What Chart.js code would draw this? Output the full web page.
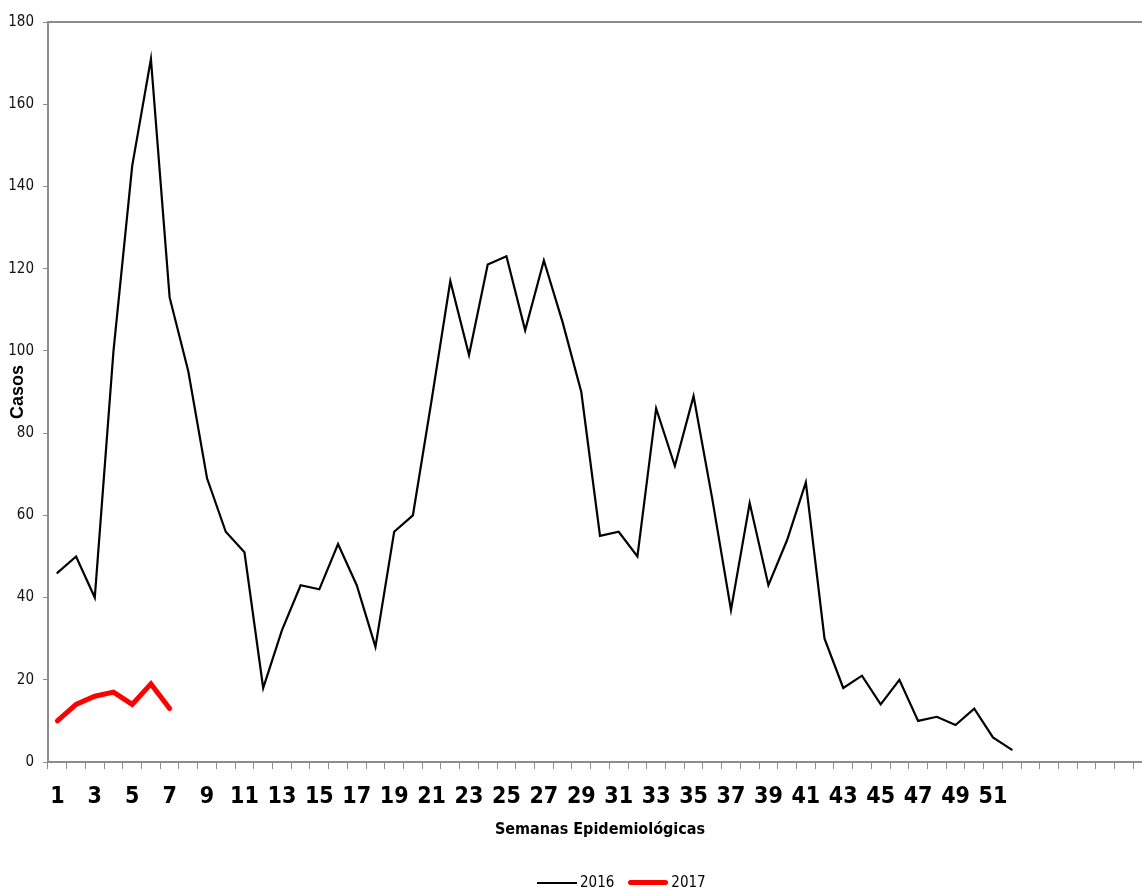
<!DOCTYPE html>
<html>
<head>
<meta charset="utf-8">
<script src="https://cdn.jsdelivr.net/npm/chart.js@4"></script>
<style>
    html, body { margin: 0; padding: 0; background: #fff; overflow: hidden; }
    #casosChart { position: absolute; left: 0; top: 0; }
    #legend {
        position: absolute; left: 537px; top: 873px;
        font-family: 'Liberation Sans Narrow', 'DejaVu Sans Condensed', sans-serif;
        font-size: 15px; color: #000; white-space: nowrap;
    }
    #legend .item { display: inline-block; margin-right: 14px; }
    #legend .swatch { display: inline-block; width: 40px; vertical-align: middle; margin-right: 3px; }
</style>
</head>
<body>
<canvas id="casosChart" width="1152" height="888"></canvas>
<div id="legend"></div>
<script>
// Semanas epidemiológicas (categorías del eje X; las últimas van vacías)
const weeks = ['1', '2', '3', '4', '5', '6', '7', '8', '9', '10',
    '11', '12', '13', '14', '15', '16', '17', '18', '19', '20',
    '21', '22', '23', '24', '25', '26', '27', '28', '29', '30',
    '31', '32', '33', '34', '35', '36', '37', '38', '39', '40',
    '41', '42', '43', '44', '45', '46', '47', '48', '49', '50',
    '51', '52', '', '', '', '', '', '', ''];

const casos2016 = [46, 50, 40, 100, 145, 171, 113, 95, 69, 56,
    51, 18, 32, 43, 42, 53, 43, 28, 56, 60,
    88, 117, 99, 121, 123, 105, 122, 107, 90, 55,
    56, 50, 86, 72, 89, 64, 37, 63, 43, 54,
    68, 30, 18, 21, 14, 20, 10, 11, 9, 13,
    6, 3];

const casos2017 = [10, 14, 16, 17, 14, 19, 13];

const yTicks = [0, 20, 40, 60, 80, 100, 120, 140, 160, 180];

const narrow = "'Liberation Sans Narrow', 'DejaVu Sans Condensed', sans-serif";
const axisGray = '#8c8c8c';

// top border of the plot area
const plotBorder = {
    id: 'plotBorder',
    afterDraw(chart) {
        const { ctx, chartArea } = chart;
        ctx.save();
        ctx.strokeStyle = axisGray;
        ctx.lineWidth = 2;
        ctx.beginPath();
        ctx.moveTo(chartArea.left - 1, chartArea.top);
        ctx.lineTo(chartArea.right, chartArea.top);
        ctx.stroke();
        ctx.restore();
    }
};

const series = [
    { label: '2016', data: casos2016, color: '#000000', width: 2.2 },
    { label: '2017', data: casos2017, color: '#ff0000', width: 5 }
];

const chart = new Chart(document.getElementById('casosChart'), {
    type: 'line',
    data: {
        labels: weeks,
        datasets: series.map(s => ({
            label: s.label,
            data: s.data,
            borderColor: s.color,
            backgroundColor: s.color,
            borderWidth: s.width,
            borderCapStyle: 'round',
            borderJoinStyle: 'miter',
            pointRadius: 0,
            tension: 0,
            fill: false
        }))
    },
    options: {
        responsive: false,
        animation: false,
        layout: { padding: { top: 22, left: 0, right: 0, bottom: 0 } },
        plugins: {
            legend: { display: false },
            tooltip: { enabled: false }
        },
        scales: {
            x: {
                type: 'category',
                offset: true,
                afterFit: (scale) => {
                    scale.height = 126;
                    scale.paddingLeft = 0;
                    scale.paddingRight = 0;
                },
                grid: {
                    offset: true,
                    drawOnChartArea: false,
                    tickLength: 7,
                    color: axisGray,
                    lineWidth: 1
                },
                border: { color: axisGray, width: 2 },
                ticks: {
                    autoSkip: false,
                    maxRotation: 0,
                    padding: 14,
                    color: '#000',
                    font: { family: narrow, size: 23, weight: 'bold' },
                    callback: function (val, i) {
                        return i % 2 === 0 ? this.getLabelForValue(val) : '';
                    }
                },
                title: {
                    display: true,
                    text: 'Semanas Epidemiológicas',
                    color: '#000',
                    font: { family: narrow, size: 16, weight: 'bold' },
                    padding: { top: 0, bottom: 49 }
                }
            },
            y: {
                min: 0,
                max: 180,
                afterFit: (scale) => { scale.width = 48; },
                afterBuildTicks: (scale) => { scale.ticks = yTicks.map(v => ({ value: v })); },
                grid: {
                    drawOnChartArea: false,
                    tickLength: 5,
                    color: axisGray,
                    lineWidth: 1
                },
                border: { color: axisGray, width: 2 },
                ticks: {
                    padding: 9,
                    color: '#111',
                    font: { family: narrow, size: 15 }
                },
                title: {
                    display: true,
                    text: 'Casos',
                    color: '#000',
                    font: { family: "'Liberation Sans', Arial, sans-serif", size: 18, weight: 'bold' },
                    padding: { top: 7, bottom: 0 }
                }
            }
        }
    },
    plugins: [plotBorder]
});

// legend drawn as HTML so it can sit where the original one is
const legendEl = document.getElementById('legend');
series.forEach(s => {
    const item = document.createElement('span');
    item.className = 'item';
    const sw = document.createElement('span');
    sw.className = 'swatch';
    sw.style.height = Math.round(s.width) + 'px';
    sw.style.background = s.color;
    sw.style.borderRadius = s.width > 3 ? '3px' : '0';
    item.appendChild(sw);
    item.appendChild(document.createTextNode(s.label));
    legendEl.appendChild(item);
});
</script>
</body>
</html>
